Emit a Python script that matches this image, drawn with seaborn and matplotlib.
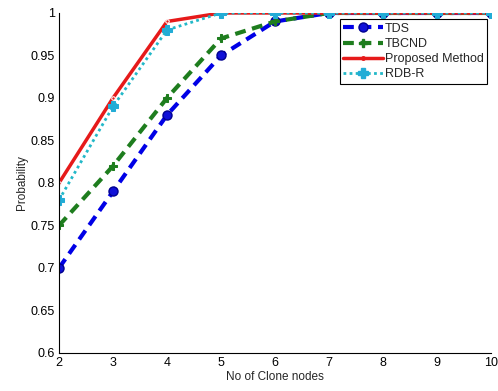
import numpy as np
import pandas as pd
import matplotlib
matplotlib.use('Agg')
import matplotlib.pyplot as plt
from matplotlib.lines import Line2D
import seaborn as sns

nodes = [2, 3, 4, 5, 6, 7, 8, 9, 10]
tds = [0.70, 0.79, 0.88, 0.95, 0.99, 1.0, 1.0, 1.0, 1.0]
tbcnd = [0.75, 0.82, 0.90, 0.97, 0.99, 1.0, 1.0, 1.0, 1.0]
proposed = [0.80, 0.90, 0.99, 1.0, 1.0, 1.0, 1.0, 1.0, 1.0]
rdbr = [0.78, 0.89, 0.98, 1.0, 1.0, 1.0, 1.0, 1.0, 1.0]
labels = ['TDS', 'TBCND', 'Proposed Method', 'RDB-R']
yticks = [0.6, 0.65, 0.7, 0.75, 0.8, 0.85, 0.9, 0.95, 1.0]
ytick_labels = ['0.6', '0.65', '0.7', '0.75', '0.8', '0.85', '0.9', '0.95', '1']

sns.set_style('white')
plt.rcParams['font.family'] = ['Liberation Sans', 'DejaVu Sans']
plt.rcParams['xtick.direction'] = 'in'
plt.rcParams['ytick.direction'] = 'in'

# style of each series, reused for the legend handles
styles = [
    dict(color='#0000e6', linestyle=(0, (2.6, 1.6)), linewidth=3, marker='o', markersize=6.5,
         markerfacecolor='#1010d8', markeredgecolor='#000090', markeredgewidth=1),
    dict(color='#1e7d1e', linestyle=(0, (2.6, 1.6)), linewidth=3, marker='P', markersize=5.5,
         markerfacecolor='#1e7d1e', markeredgecolor='#1e7d1e'),
    dict(color='#e61a1a', linestyle='-', linewidth=2.5, marker='.', markersize=5),
    dict(color='#22b8c8', linestyle=(0, (1, 1.2)), linewidth=2, marker='P', markersize=6.5,
         markerfacecolor='#22acd6', markeredgecolor='#22acd6'),
]

fig = plt.figure(figsize=(4.98, 3.91), dpi=100)
ax = fig.add_axes([0.1185, 0.0972, 0.8675, 0.8696])

for vals, st in zip([tds, tbcnd, proposed, rdbr], styles):
    sns.lineplot(x=nodes, y=vals, ax=ax, legend=False, **st)

ax.set_xlim(2, 10)
ax.set_ylim(0.6, 1.0)
ax.set_xticks(nodes)
ax.set_yticks(yticks)
ax.set_yticklabels(ytick_labels)
ax.tick_params(labelsize=9, length=4, width=0.8, colors='black', pad=3)
ax.spines['top'].set_visible(False)
ax.spines['right'].set_visible(False)
ax.spines['left'].set_color('black')
ax.spines['bottom'].set_color('black')
ax.set_xlabel('No of Clone nodes', fontsize=8.5, labelpad=1)
ax.set_ylabel('Probability', fontsize=8.5, labelpad=2)

handles = [Line2D([], [], **st) for st in styles]
leg = ax.legend(handles, labels, loc='upper right', bbox_to_anchor=(0.991, 0.982), fontsize=9,
                fancybox=False, framealpha=1, edgecolor='black', borderpad=0.3,
                labelspacing=0.25, handlelength=3.2, handletextpad=0.1, borderaxespad=0)
leg.get_frame().set_linewidth(0.8)

fig.savefig('out.png', dpi=100)
